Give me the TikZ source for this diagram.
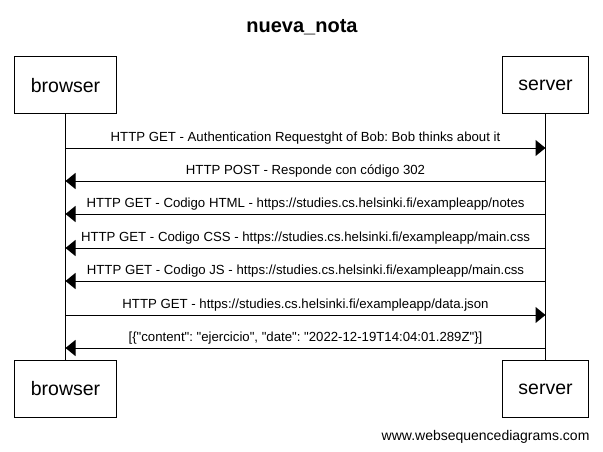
\documentclass[tikz,border=0pt]{standalone}
\usepackage{fontspec}
\setmainfont{Liberation Sans}
\usetikzlibrary{arrows.meta,calc,positioning}
\frenchspacing
\tikzset{
  actor/.style={draw,line width=1pt,minimum height=57pt,inner xsep=16pt,
    font=\fontsize{19.5}{22}\selectfont},
  msg/.style={line width=1pt,-{Triangle[length=10pt,width=16pt]}},
  msg label/.style={midway,above,inner sep=3pt,font=\fontsize{13.2}{15}\selectfont}
}
\newcommand{\q}{\textquotedbl}

\begin{document}
\begin{tikzpicture}[x=1pt,y=-1pt]
\useasboundingbox (0,0) rectangle (603,452);

\node[font=\bfseries\fontsize{20}{24}\selectfont] (title) at (302,27) {nueva\_nota};

\node[actor] (browser) at (65.5,85.5) {browser};
\node[actor] (server) at (545.5,85.5) {server};
\node[actor] (browser end) at (65.5,389) {browser};
\node[actor] (server end) at (545.5,389) {server};
\draw[line width=1pt] (browser) -- (browser end);
\draw[line width=1pt] (server) -- (server end);

% points on the lifelines
\foreach \y/\n in {148/1,181/2,214/3,248/4,281/5,315/6,348/7} {
  \coordinate (b\n) at (65.5,\y);
  \coordinate (s\n) at (545.5,\y);
}

\draw[msg] (b1) -- (s1) node[msg label] {HTTP GET - Authentication Requestght of Bob: Bob thinks about it};
\draw[msg] (s2) -- (b2) node[msg label] {HTTP POST - Responde con código 302};
\draw[msg] (s3) -- (b3) node[msg label] {HTTP GET - Codigo HTML - https://studies.cs.helsinki.fi/exampleapp/notes};
\draw[msg] (s4) -- (b4) node[msg label] {HTTP GET - Codigo CSS - https://studies.cs.helsinki.fi/exampleapp/main.css};
\draw[msg] (s5) -- (b5) node[msg label] {HTTP GET - Codigo JS - https://studies.cs.helsinki.fi/exampleapp/main.css};
\draw[msg] (b6) -- (s6) node[msg label] {HTTP GET - https://studies.cs.helsinki.fi/exampleapp/data.json};
\draw[msg] (s7) -- (b7) node[msg label] {[\{\q content\q: \q ejercicio\q, \q date\q: \q 2022-12-19T14:04:01.289Z\q\}]};

\node[anchor=east,font=\fontsize{14}{16}\selectfont] (footer) at (593,437) {www.websequencediagrams.com};
\end{tikzpicture}
\end{document}
